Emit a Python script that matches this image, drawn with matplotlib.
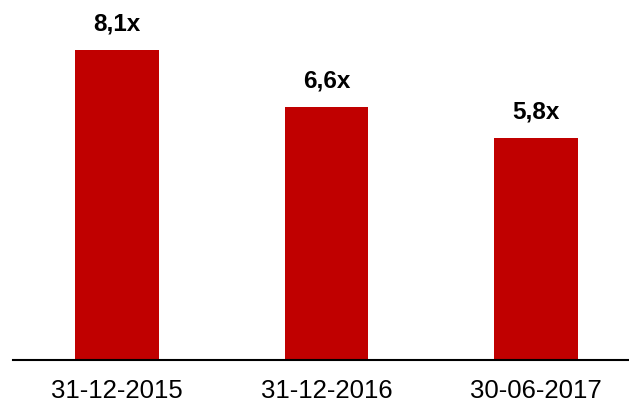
import matplotlib as mpl
mpl.rcParams.update({'font.family': 'Liberation Sans'})
from matplotlib import pyplot as plt

dates = ['31-12-2015', '31-12-2016', '30-06-2017']
ratios = [8.1, 6.6, 5.8]
labels = ['8,1x', '6,6x', '5,8x']

fig = plt.figure(figsize=(6.29, 4.04), dpi=100)
ax = fig.add_axes([0.0207, 0.109, 0.9793, 0.891])

x = list(range(len(dates)))
bars = ax.bar(x, ratios, width=0.4, color='#C00000')
for b, lab in zip(bars, labels):
    ax.annotate(lab, (b.get_x() + b.get_width() / 2, b.get_height()),
                xytext=(0, 14.4), textcoords='offset points',
                ha='center', va='baseline', fontsize=17.5, fontweight='bold')

ax.set_xlim(-0.496, 2.444)
ax.set_ylim(0, 9.41)
ax.set_xticks(x)
ax.set_xticklabels(dates, fontsize=18.5)
ax.tick_params(axis='x', length=0, pad=14)
ax.set_yticks([])
for s in ['top', 'right', 'left']:
    ax.spines[s].set_visible(False)
ax.spines['bottom'].set_linewidth(1.5)

fig.savefig('out.png', dpi=100)
